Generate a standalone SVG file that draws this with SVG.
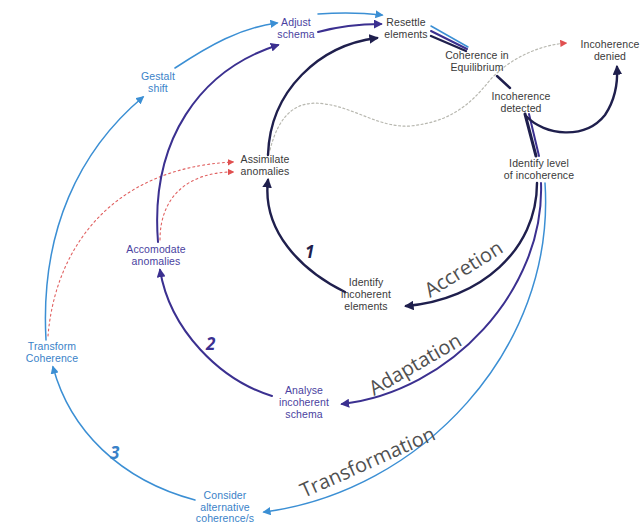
<svg xmlns="http://www.w3.org/2000/svg" width="642" height="527" viewBox="0 0 642 527">
<style>
.t{font-family:"Liberation Sans",Arial,sans-serif;font-size:10.5px;text-anchor:middle;letter-spacing:0.1px}
.g{fill:#3a3a3a}
.p{fill:#4a3fa0}
.b{fill:#3a82c8}
.big{font-family:"Open Sans","Liberation Sans",sans-serif;font-size:20px;fill:#505050;font-weight:400}
.num{font-family:"Open Sans","Liberation Sans",sans-serif;font-size:17px;font-weight:bold;font-style:italic}
.c{fill:none;stroke-linecap:round}
.n{stroke:#1f1f4d;stroke-width:2.4}
.pu{stroke:#3b3090;stroke-width:2}
.lb{stroke:#3b8fd4;stroke-width:1.5}
.dr{stroke:#e06060;stroke-width:1.1;stroke-dasharray:2 3}
.dg{stroke:#b8b8b0;stroke-width:1.2;stroke-dasharray:2 2.5}
</style>
<defs>
<marker id="mn" viewBox="0 0 10 10" refX="8" refY="5" markerWidth="4" markerHeight="4" orient="auto" markerUnits="strokeWidth"><path d="M0,0 L10,5 L0,10 z" fill="#1f1f4d"/></marker>
<marker id="mp" viewBox="0 0 10 10" refX="8" refY="5" markerWidth="4.5" markerHeight="4.5" orient="auto" markerUnits="strokeWidth"><path d="M0,0 L10,5 L0,10 z" fill="#3b3090"/></marker>
<marker id="mb" viewBox="0 0 10 10" refX="8" refY="5" markerWidth="5.5" markerHeight="5.5" orient="auto" markerUnits="strokeWidth"><path d="M0,0 L10,5 L0,10 z" fill="#3b8fd4"/></marker>
<marker id="mr" viewBox="0 0 10 10" refX="8" refY="5" markerWidth="6" markerHeight="6" orient="auto" markerUnits="strokeWidth"><path d="M0,0 L10,5 L0,10 z" fill="#e05050"/></marker>
</defs>
<rect width="642" height="527" fill="#ffffff"/>
<g id="connectors">
<path class="c dg" d="M 270 150 C 280 110, 300 100, 325 104 C 355 108, 380 128, 410 126 C 450 122, 470 105, 490 80 C 510 58, 540 45, 566 43" marker-end="url(#mr)"/>
<path class="c dr" d="M 48 336 C 55 250, 110 168, 233 162" marker-end="url(#mr)"/>
<path class="c dr" d="M 160 240 C 160 195, 190 172, 233 172" marker-end="url(#mr)"/>
<path class="c n" d="M 537 183 C 537 250, 480 300, 406 306" marker-end="url(#mn)"/>
<path class="c n" d="M 345 292 C 300 270, 262 230, 268 180" marker-end="url(#mn)"/>
<path class="c n" d="M 268 155 C 270 90, 320 45, 377 38" marker-end="url(#mn)"/>
<path class="c pu" d="M 541 183 C 545 290, 450 392, 342 404" marker-end="url(#mp)"/>
<path class="c pu" d="M 272 396 C 220 380, 170 330, 160 270" marker-end="url(#mp)"/>
<path class="c pu" d="M 158 242 C 150 140, 200 70, 278 45" marker-end="url(#mp)"/>
<path class="c pu" d="M 318 32 C 340 26, 360 24, 381 24" marker-end="url(#mp)"/>
<path class="c lb" d="M 545 183 C 556 350, 420 492, 264 512" marker-end="url(#mb)"/>
<path class="c lb" d="M 195 500 C 120 480, 70 430, 53 367" marker-end="url(#mb)"/>
<path class="c lb" d="M 46 340 C 40 230, 80 150, 143 97" marker-end="url(#mb)"/>
<path class="c lb" d="M 175 68 C 210 45, 240 28, 277 23" marker-end="url(#mb)"/>
<path class="c lb" d="M 318 14 C 345 12, 365 13, 382 15" marker-end="url(#mb)"/>
<path class="c lb" d="M 431 26 L 468 47"/>
<path class="c pu" d="M 431 31 L 467 49"/>
<path class="c n" d="M 431 36 L 466 51"/>
<path class="c n" d="M 497 76 L 510 88"/>
<path class="c n" d="M 525 114 L 536 156" style="stroke-width:3"/>
<path class="c pu" d="M 529 114 L 539 156"/>
<path class="c n" d="M 526 116 C 545 136, 585 140, 605 115 C 615 100, 618 85, 617 67" marker-end="url(#mn)"/>
</g>
<g id="adjust-schema"><text class="t p" x="296" y="26">Adjust<tspan x="296" dy="12">schema</tspan></text></g>
<g id="resettle-elements"><text class="t g" x="406" y="26">Resettle<tspan x="406" dy="12">elements</tspan></text></g>
<g id="coherence-equilibrium"><text class="t g" x="477" y="59">Coherence in<tspan x="477" dy="12">Equilibrium</tspan></text></g>
<g id="incoherence-denied"><text class="t g" x="610" y="48">Incoherence<tspan x="610" dy="12">denied</tspan></text></g>
<g id="incoherence-detected"><text class="t g" x="521" y="100">Incoherence<tspan x="521" dy="12">detected</tspan></text></g>
<g id="identify-level"><text class="t g" x="539" y="167">Identify level<tspan x="539" dy="12">of incoherence</tspan></text></g>
<g id="assimilate-anomalies"><text class="t g" x="265" y="163">Assimilate<tspan x="265" dy="12">anomalies</tspan></text></g>
<g id="gestalt-shift"><text class="t b" x="158" y="80">Gestalt<tspan x="158" dy="12">shift</tspan></text></g>
<g id="accomodate-anomalies"><text class="t p" x="156" y="253">Accomodate<tspan x="156" dy="12">anomalies</tspan></text></g>
<g id="identify-incoherent-elements"><text class="t g" x="366" y="286">Identify<tspan x="366" dy="12">incoherent</tspan><tspan x="366" dy="12">elements</tspan></text></g>
<g id="transform-coherence"><text class="t b" x="52" y="350">Transform<tspan x="52" dy="12">Coherence</tspan></text></g>
<g id="analyse-incoherent-schema"><text class="t p" x="304" y="394">Analyse<tspan x="304" dy="12">incoherent</tspan><tspan x="304" dy="12">schema</tspan></text></g>
<g id="consider-alternative"><text class="t b" x="225" y="499">Consider<tspan x="225" dy="11.5">alternative</tspan><tspan x="225" dy="11.5">coherence/s</tspan></text></g>
<g id="labels">
<text class="num" x="305" y="258" fill="#1f1f4d">1</text>
<text class="num" x="206" y="350" fill="#3b3090">2</text>
<text class="num" x="110" y="459" fill="#3a82c8">3</text>
<text class="big" transform="translate(430,298) rotate(-32)">Accretion</text>
<text class="big" transform="translate(374,396) rotate(-30)">Adaptation</text>
<text class="big" transform="translate(304,498) rotate(-24)">Transformation</text>
</g>
</svg>
